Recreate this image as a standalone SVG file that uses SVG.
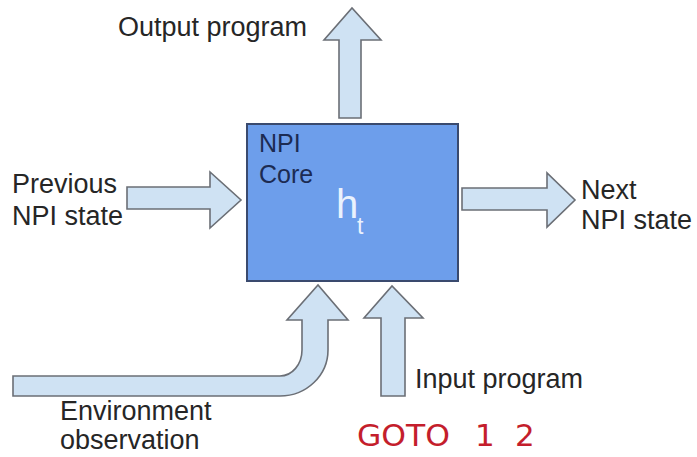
<svg xmlns="http://www.w3.org/2000/svg" width="697" height="457" viewBox="0 0 697 457">
  <style>
    .arrow { fill: #cfe2f3; stroke: #6b6f76; stroke-width: 1.6; stroke-linejoin: miter; }
    .lbl { font-family: "Liberation Sans", Arial, sans-serif; font-size: 27px; fill: #262626; }
    .core { font-family: "Liberation Sans", Arial, sans-serif; font-size: 25px; fill: #1c2b52; }
  </style>
  <rect width="697" height="457" fill="#ffffff"/>

  <g id="connectors">
    <!-- output program (up) -->
    <path class="arrow" d="M339,118 L339,40 L324,40 L352,8 L381,40 L361,40 L361,118 Z"/>
    <!-- previous state (in) -->
    <path class="arrow" d="M127,187 L210,187 L210,172 L241,200 L210,228 L210,209 L127,209 Z"/>
    <!-- next state (out) -->
    <path class="arrow" d="M462,188 L547,188 L547,173 L575,200 L547,227 L547,210 L462,210 Z"/>
    <!-- input program (up) -->
    <path class="arrow" d="M381,396 L381,318 L364,318 L392,286 L423,318 L405,318 L405,396 Z"/>
    <!-- environment observation (bent up) -->
    <path class="arrow" d="M13,376 L280,376 A22,26 0 0 0 302,350 L302,320 L287,320 L318,285 L348,320 L328,320 L328,350 A48,46 0 0 1 280,396 L13,396 Z"/>
  </g>

  <g id="npi-core">
    <rect x="247" y="124" width="211" height="157" fill="#6d9eeb" stroke="#3a4a6e" stroke-width="2"/>
    <text class="core" x="259" y="152">NPI</text>
    <text class="core" x="259" y="183">Core</text>
    <text x="336" y="218" font-family="Liberation Sans, Arial, sans-serif" font-size="40" fill="#eaf2fd">h</text>
    <text x="357" y="234" font-family="Liberation Sans, Arial, sans-serif" font-size="23" fill="#eaf2fd">t</text>
  </g>

  <g id="labels">
    <text class="lbl" x="118" y="36">Output program</text>
    <text class="lbl" x="12" y="193">Previous</text>
    <text class="lbl" x="12" y="225">NPI state</text>
    <text class="lbl" x="581" y="199">Next</text>
    <text class="lbl" x="581" y="229">NPI state</text>
    <text class="lbl" x="415" y="388" font-size="28">Input program</text>
    <text class="lbl" x="60" y="420">Environment</text>
    <text class="lbl" x="60" y="449">observation</text>
    <g font-family="'DejaVu Sans', sans-serif" font-size="31" fill="#c41e2c">
      <text x="357" y="446" textLength="93" lengthAdjust="spacingAndGlyphs">GOTO</text>
      <text x="475" y="446">1</text>
      <text x="515" y="446">2</text>
    </g>
  </g>
</svg>
